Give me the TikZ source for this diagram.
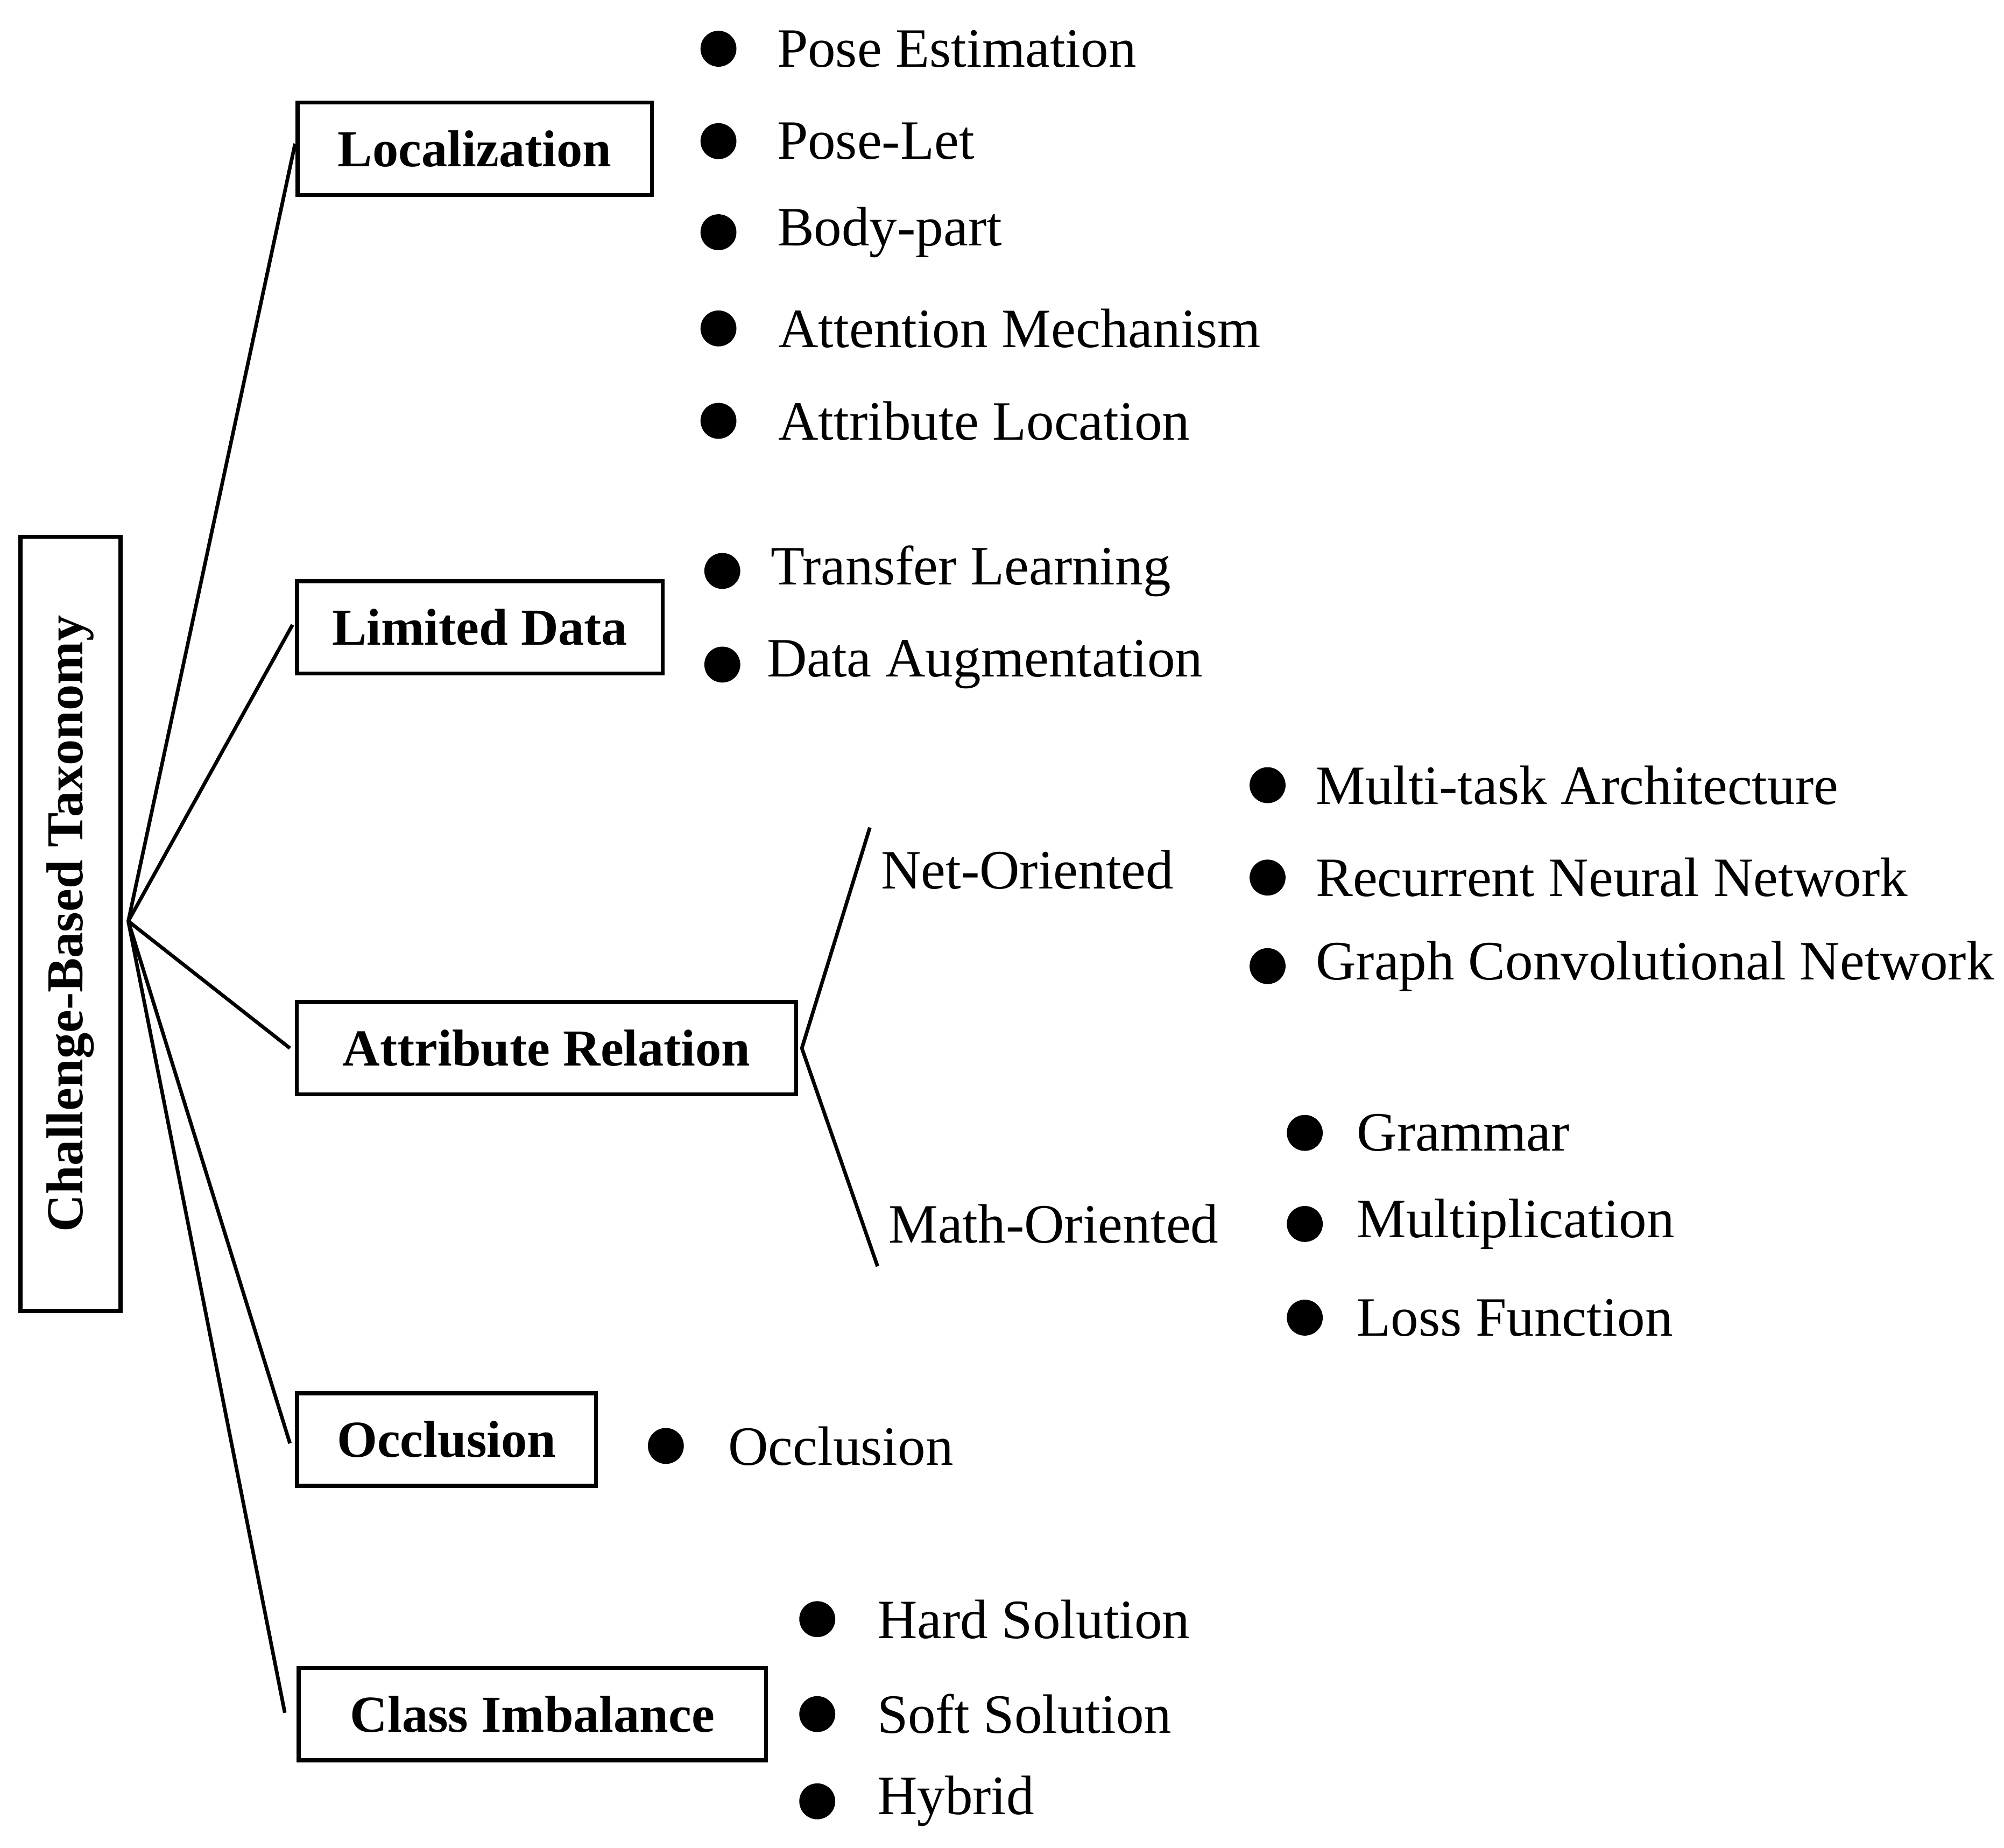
\documentclass[tikz,border=0pt]{standalone}
\usepackage{fontspec}
\setmainfont{Liberation Serif}
\begin{document}
\begin{tikzpicture}[x=0.01cm,y=-0.01cm,
  box/.style={draw,line width=0.9pt,inner sep=0pt,font=\fontsize{11.5}{14}\selectfont\bfseries},
  lab/.style={anchor=west,inner sep=0pt,font=\fontsize{12.3}{15}\selectfont},
  bul/.style={circle,fill=black,minimum size=0.28cm,inner sep=0pt},
  ln/.style={line width=0.8pt}]
\useasboundingbox (0,0) rectangle (1562,1440);
\node[box,rotate=90,minimum width=6.03cm,minimum height=0.78cm] (root) at (55,720) {Challenge-Based Taxonomy};
\coordinate (o) at (100,718);
\node[box,minimum width=2.76cm,minimum height=0.72cm] (loc) at (370,116) {Localization};
\node[box,minimum width=2.85cm,minimum height=0.72cm] (ld) at (374,489) {Limited Data};
\node[box,minimum width=3.89cm,minimum height=0.72cm] (ar) at (426,817) {Attribute Relation};
\node[box,minimum width=2.33cm,minimum height=0.72cm] (occ) at (348,1122) {Occlusion};
\node[box,minimum width=3.64cm,minimum height=0.72cm] (ci) at (415,1336) {Class Imbalance};
\coordinate (e1) at (230,112);\coordinate (e2) at (228,487);\coordinate (e3) at (226,817);
\coordinate (e4) at (226,1125);\coordinate (e5) at (222,1335);
\foreach \e in {e1,e2,e3,e4,e5} \draw[ln] (o) -- (\e);
\coordinate (a0) at (625,817);\coordinate (a1) at (678,645);\coordinate (a2) at (684,987);
\draw[ln] (a1) -- (a0) -- (a2);
\node[lab] (net) at (686,678) {Net-Oriented};
\node[lab] (math) at (692,954) {Math-Oriented};
\foreach \n/\bx/\tx/\y/\t in {
 l1/560/605/38/Pose Estimation, l2/560/605/110/Pose-Let, l3/560/605/181/Body-part,
 l4/560/606/256/Attention Mechanism, l5/560/606/328/Attribute Location,
 d1/563/600/445/Transfer Learning, d2/563/597/518/Data Augmentation,
 n1/988/1025/612/Multi-task Architecture, n2/988/1025/684/Recurrent Neural Network,
 n3/988/1025/753/Graph Convolutional Network,
 m1/1017/1057/883/Grammar, m2/1017/1057/954/Multiplication, m3/1017/1057/1027/Loss Function,
 o1/519/567/1127/Occlusion,
 c1/637/683/1262/Hard Solution, c2/637/683/1336/Soft Solution, c3/637/683/1404/Hybrid}
{ \node[bul] (b\n) at (\bx,\y) {}; \node[lab] (t\n) at (\tx,\y) {\t}; }
\end{tikzpicture}
\end{document}
